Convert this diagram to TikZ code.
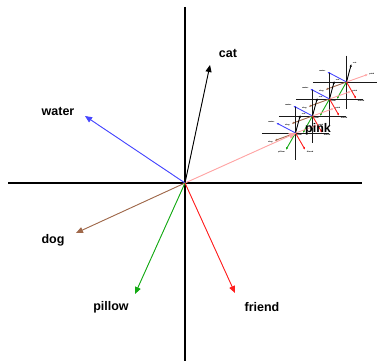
\documentclass[tikz,border=0pt]{standalone}
\usepackage{fontspec}
\setmainfont{Liberation Sans}
\usetikzlibrary{arrows.meta}
\definecolor{cblue}{RGB}{70,70,255}
\definecolor{cpink}{RGB}{255,165,165}
\definecolor{cbrown}{RGB}{160,105,75}
\definecolor{cgreen}{RGB}{20,170,20}
\definecolor{cred}{RGB}{255,30,30}
\tikzset{
  axline/.style={draw=black,line width=1.5pt},
  vec/.style={line width=0.9pt,-{Triangle[length=7pt,width=6pt]}},
  lbl/.style={font=\fontsize{12.5}{14}\selectfont\bfseries,inner sep=0pt},
  mini/.style={transform shape,
    axline/.style={draw=black!90,line width=1pt},
    vec/.style={line width=0.85pt,-{Triangle[length=2.4pt,width=2pt]}}},
  vfig/.pic={
    \coordinate (-o) at (0,0);
    \coordinate (-l) at (-177,0); \coordinate (-r) at (177,0);
    \coordinate (-t) at (0,-176); \coordinate (-b) at (0,178);
    \draw[axline] (-l) -- (-r);
    \draw[axline] (-t) -- (-b);
    \coordinate (-cat) at (25,-118);
    \coordinate (-water) at (-100,-67);
    \coordinate (-pink) at (111,-50);
    \coordinate (-dog) at (-109,50);
    \coordinate (-pillow) at (-50,111);
    \coordinate (-friend) at (50,110);
    \draw[vec,draw=cpink,fill=cpink] (-o) -- (-pink);
    \draw[vec,draw=black,fill=black] (-o) -- (-cat);
    \draw[vec,draw=cblue,fill=cblue] (-o) -- (-water);
    \draw[vec,draw=cbrown,fill=cbrown] (-o) -- (-dog);
    \draw[vec,draw=cgreen,fill=cgreen] (-o) -- (-pillow);
    \draw[vec,draw=cred,fill=cred] (-o) -- (-friend);
    \node[lbl] (-catl) at (43,-130) {cat};
    \node[lbl] (-waterl) at (-127,-72) {water};
    \node[lbl] (-pinkl) at (133,-54) {pink};
    \node[lbl] (-dogl) at (-132,57) {dog};
    \node[lbl] (-pillowl) at (-74,124) {pillow};
    \node[lbl] (-friendl) at (77,124) {friend};
  }
}
\begin{document}
\begin{tikzpicture}[x=1pt,y=-1pt]
  \useasboundingbox (0,0) rectangle (377,361);
  \fill[white] (0,0) rectangle (377,361);
  \pic (m4) at (346.5,82) [xscale=0.19,yscale=0.15,mini] {vfig};
  \pic (m3) at (329.5,99) [xscale=0.19,yscale=0.15,mini] {vfig};
  \pic (m2) at (312.5,116) [xscale=0.19,yscale=0.15,mini] {vfig};
  \pic (m1) at (295.5,133) [xscale=0.19,yscale=0.15,mini] {vfig};
  \pic (main) at (185,183) {vfig};
\end{tikzpicture}
\end{document}
